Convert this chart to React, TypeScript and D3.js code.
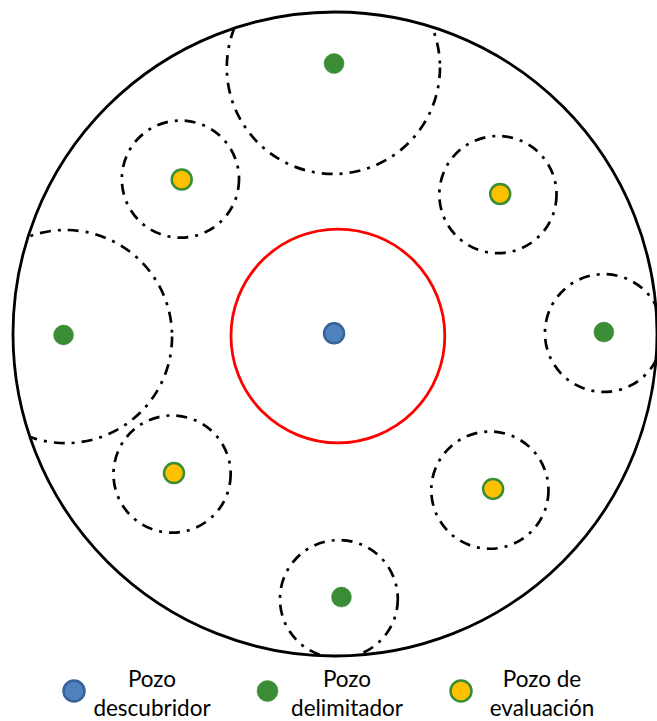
import React from "react";
import * as d3 from "d3";

// Field boundary (normalized units, center at 0,0, radius 1)
const fieldCenter = [0, 0];
const fieldRadius = 1;

// Wells (normalized coordinates relative to field center)
const wellTypes = ["descubridor", "delimitador", "delimitador", "delimitador", "delimitador", "evaluacion", "evaluacion", "evaluacion", "evaluacion"];
const wellX = [-0.003, -0.003, -0.843, 0.835, 0.02, -0.476, 0.513, -0.5, 0.491];
const wellY = [-0.002, -0.84, 0.003, -0.006, 0.817, -0.48, -0.435, 0.432, 0.481];

// Drainage radius around discovery well (red)
const discoveryRangeX = [0.009];
const discoveryRangeY = [0.006];
const discoveryRangeR = [0.332];

// Dash-dot influence circles around other wells
const rangeX = [-0.005, -0.837, 0.835, 0.012, -0.48, 0.506, -0.506, 0.481];
const rangeY = [-0.828, 0.008, -0.003, 0.823, -0.481, -0.433, 0.435, 0.485];
const rangeR = [0.331, 0.331, 0.183, 0.183, 0.182, 0.182, 0.182, 0.182];

// Legend
const legendTypes = ["descubridor", "delimitador", "evaluacion"];
const legendLine1 = ["Pozo", "Pozo", "Pozo de"];
const legendLine2 = ["descubridor", "delimitador", "evaluación"];

const fillColor: Record<string, string> = {
  descubridor: "#4f81bd",
  delimitador: "#3a8d34",
  evaluacion: "#ffc000",
};
const strokeColor: Record<string, string> = {
  descubridor: "#36639a",
  delimitador: "#3a8d34",
  evaluacion: "#3a8d34",
};

export default function App() {
  const W = 657;
  const H = 721;
  const cx = 335;
  const cy = 334;
  const R = 322;
  const x = d3.scaleLinear().domain([-1, 1]).range([cx - R, cx + R]);
  const y = d3.scaleLinear().domain([-1, 1]).range([cy - R, cy + R]);
  const r = d3.scaleLinear().domain([0, 1]).range([0, R]);

  const legendX = d3.scalePoint<string>().domain(legendTypes).range([74, 461]);
  const textX = d3.scalePoint<string>().domain(legendTypes).range([152, 542]);

  const dot = (t: string, px: number, py: number, key: string | number, rad = 10) => (
    <circle
      key={key}
      cx={px}
      cy={py}
      r={rad}
      fill={fillColor[t]}
      stroke={strokeColor[t]}
      strokeWidth={t === "delimitador" ? 0.5 : 2.5}
    />
  );

  return (
    <svg width={W} height={H} style={{ position: "absolute", left: 0, top: 0, background: "#fff" }}>
      <defs>
        <clipPath id="field">
          <circle cx={x(fieldCenter[0])} cy={y(fieldCenter[1])} r={r(fieldRadius)} />
        </clipPath>
      </defs>
      <rect width={W} height={H} fill="#fff" />
      <g clipPath="url(#field)">
        {rangeX.map((v, i) => (
          <circle
            key={i}
            cx={x(v)}
            cy={y(rangeY[i])}
            r={r(rangeR[i])}
            fill="none"
            stroke="#000"
            strokeWidth={2.7}
            strokeDasharray="11 7 3 7"
          />
        ))}
      </g>
      <circle
        cx={x(fieldCenter[0])}
        cy={y(fieldCenter[1])}
        r={r(fieldRadius)}
        fill="none"
        stroke="#000"
        strokeWidth={2.8}
      />
      {discoveryRangeX.map((v, i) => (
        <circle
          key={i}
          cx={x(v)}
          cy={y(discoveryRangeY[i])}
          r={r(discoveryRangeR[i])}
          fill="none"
          stroke="#ff0000"
          strokeWidth={2.8}
        />
      ))}
      {wellX.map((v, i) => dot(wellTypes[i], x(v), y(wellY[i]), i))}
      <g fontFamily="Lato, 'Open Sans', sans-serif" fontSize={22.5} fill="#000" textAnchor="middle">
        {legendTypes.map((t, i) => (
          <g key={t}>
            {dot(t, legendX(t)!, 691, "l" + i, 10.5)}
            <text x={textX(t)} y={687}>{legendLine1[i]}</text>
            <text x={textX(t)} y={716}>{legendLine2[i]}</text>
          </g>
        ))}
      </g>
    </svg>
  );
}
